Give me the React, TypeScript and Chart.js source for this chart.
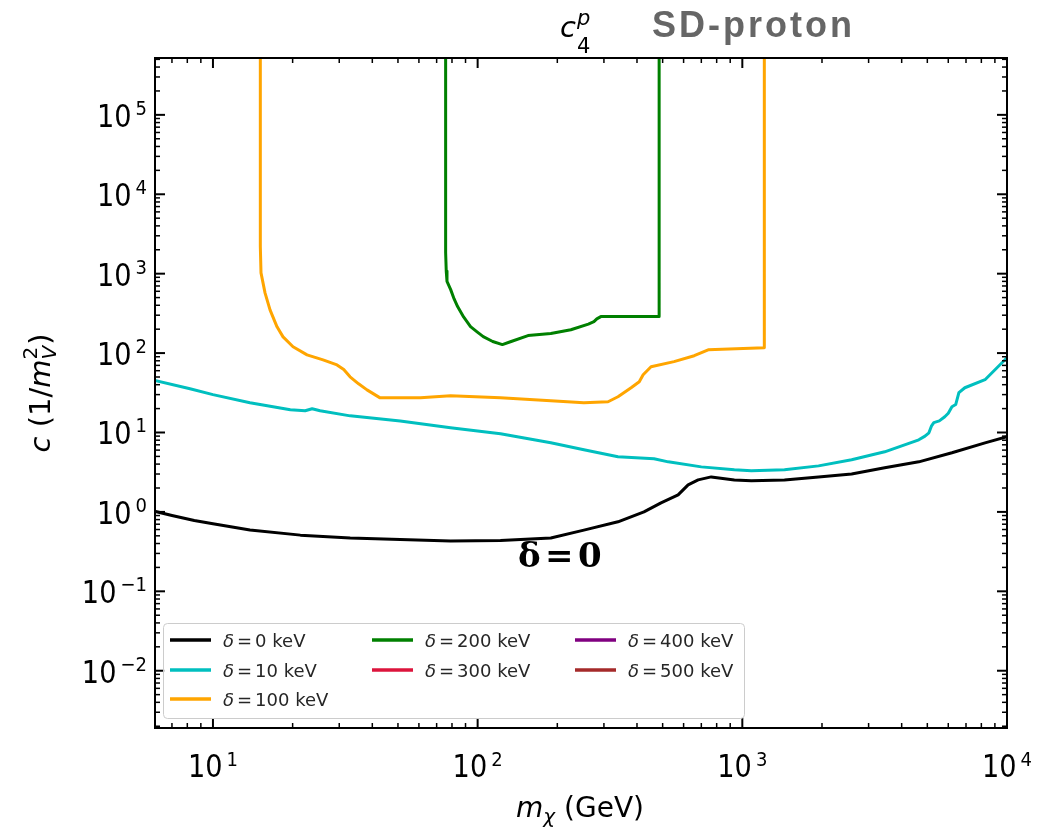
import React, { useEffect, useRef } from "react";
import { Chart, registerables } from "chart.js";
Chart.register(...registerables);

// ---------------- data ----------------
const blackMass = [6.0, 7.0, 8.5, 10, 13.8, 21.4, 33, 51, 79, 122, 189, 252, 339, 425, 493, 572, 624, 681, 763, 933, 1082, 1443, 1941, 2588, 3451, 4643, 6194, 8260, 10000];
const blackC = [1.02, 0.9, 0.78, 0.71, 0.59, 0.51, 0.47, 0.45, 0.43, 0.435, 0.47, 0.59, 0.75, 1.0, 1.3, 1.64, 2.19, 2.53, 2.76, 2.53, 2.46, 2.53, 2.76, 3.01, 3.59, 4.27, 5.55, 7.41, 8.83];

const cyanMass = [6.0, 8.19, 10, 13.8, 19.6, 22.3, 23.7, 25.4, 33, 51, 79, 122, 189, 252, 339, 464, 525, 700, 933, 1082, 1443, 1941, 2588, 3451, 4643, 4900, 5070, 5180, 5290, 5550, 5820, 6000, 6194, 6400, 6580, 6930, 8260, 10000];
const cyanC = [45.5, 35.6, 30.0, 23.7, 19.3, 18.8, 19.9, 18.8, 16.2, 14.0, 11.5, 9.63, 7.41, 6.05, 4.94, 4.66, 4.27, 3.69, 3.39, 3.29, 3.39, 3.8, 4.53, 5.71, 8.09, 9.0, 9.91, 12.0, 13.3, 14.0, 15.8, 17.5, 21.1, 22.5, 31.7, 36.6, 46.2, 87.5];

const orangeMass = [15.1, 15.1, 15.19, 15.73, 16.43, 17.46, 18.4, 20.07, 22.67, 26.06, 29.43, 31.2, 32.96, 35.5, 38.2, 42.8, 60.8, 79, 122, 189, 252, 311, 339, 380, 408, 422, 452, 552, 658, 743, 1211, 1211];
const orangeC = [1e6, 2197, 1023, 573, 350, 214, 160, 120, 94.9, 82.1, 71.0, 62.0, 50.2, 41.0, 34.4, 27.3, 27.4, 29.0, 27.4, 25.1, 23.7, 24.4, 28.2, 36.6, 43.6, 53.4, 67.4, 78.0, 92.7, 110, 117, 1e6];

const greenMass = [75.7, 75.7, 76.1, 76.6, 79.1, 81.5, 84.0, 88.5, 94.0, 99.5, 105, 114, 124, 133, 155, 189, 225, 262, 275, 282, 292, 485, 485];
const greenC = [1e6, 1845, 1080, 800, 630, 480, 385, 285, 215, 185, 161, 140, 128, 139, 166, 176, 197, 232, 249, 270, 288, 288, 1e6];

const emptyMass: number[] = [];
const emptyC: number[] = [];

const deltaLabels = ["0", "10", "100", "200", "300", "400", "500"];
const deltaColors = ["#000000", "#00bfbf", "#ffa500", "#008000", "#dc143c", "#800080", "#a52a2a"];
const legendCols = [0, 0, 0, 1, 1, 2, 2];
const legendRows = [0, 1, 2, 0, 1, 0, 1];

const xTickValues = [10, 100, 1000, 10000];
const xTickExps = ["1", "2", "3", "4"];
const yTickValues = [1e-2, 1e-1, 1, 10, 1e2, 1e3, 1e4, 1e5];
const yTickExps = ["\u22122", "\u22121", "0", "1", "2", "3", "4", "5"];

const X_MIN = 6.04;
const X_MAX = 1e4;
const Y_MIN = 1.9e-3;
const Y_MAX = 5.2e5;

// ---------------- helpers ----------------
const DV = '"DejaVu Sans"';
type Part = { t: string; f: string; dx?: number; dy?: number; sx?: number; stack?: boolean; color?: string };

function layoutRich(ctx: CanvasRenderingContext2D, parts: Part[]) {
  let cx = 0;
  let maxX = 0;
  let prevStart = 0;
  const pos: number[] = [];
  for (const p of parts) {
    ctx.font = p.f;
    const w = ctx.measureText(p.t).width * (p.sx ?? 1);
    if (p.stack) cx = prevStart;
    cx += p.dx ?? 0;
    pos.push(cx);
    prevStart = cx;
    cx += w;
    maxX = Math.max(maxX, cx);
    cx = maxX;
  }
  return { pos, width: maxX };
}

function drawRich(ctx: CanvasRenderingContext2D, parts: Part[], x: number, y: number, align: "left" | "center" | "right", color = "#000") {
  const { pos, width } = layoutRich(ctx, parts);
  const x0 = align === "left" ? x : align === "center" ? x - width / 2 : x - width;
  parts.forEach((p, i) => {
    ctx.save();
    ctx.font = p.f;
    ctx.fillStyle = p.color ?? color;
    ctx.textAlign = "left";
    ctx.textBaseline = "alphabetic";
    ctx.translate(x0 + pos[i], y + (p.dy ?? 0));
    ctx.scale(p.sx ?? 1, 1);
    ctx.fillText(p.t, 0, 0);
    ctx.restore();
  });
}

function minorValues(min: number, max: number) {
  const out: number[] = [];
  for (let e = Math.floor(Math.log10(min)); e <= Math.ceil(Math.log10(max)); e++) {
    for (let m = 2; m <= 9; m++) {
      const v = m * Math.pow(10, e);
      if (v > min && v < max) out.push(v);
    }
  }
  return out;
}
function majorValues(min: number, max: number) {
  const out: number[] = [];
  for (let e = Math.floor(Math.log10(min)); e <= Math.ceil(Math.log10(max)); e++) {
    const v = Math.pow(10, e);
    if (v >= min * 0.999 && v <= max * 1.001) out.push(v);
  }
  return out;
}

const decorPlugin = {
  id: "decor",
  afterDatasetsDraw(chart: any) {
    const ctx: CanvasRenderingContext2D = chart.ctx;
    const { left, right, top, bottom } = chart.chartArea;
    const xs = chart.scales.x;
    const ys = chart.scales.y;
    ctx.save();
    ctx.strokeStyle = "#000";
    const tick = (x1: number, y1: number, x2: number, y2: number, w: number) => {
      ctx.lineWidth = w;
      ctx.beginPath();
      ctx.moveTo(x1, y1);
      ctx.lineTo(x2, y2);
      ctx.stroke();
    };
    for (const v of minorValues(X_MIN, X_MAX)) {
      const px = xs.getPixelForValue(v);
      tick(px, bottom, px, bottom - 5, 1.5);
      tick(px, top, px, top + 5, 1.5);
    }
    for (const v of majorValues(X_MIN, X_MAX)) {
      const px = xs.getPixelForValue(v);
      tick(px, bottom, px, bottom - 10, 2);
      tick(px, top, px, top + 10, 2);
    }
    for (const v of minorValues(Y_MIN, Y_MAX)) {
      const py = ys.getPixelForValue(v);
      tick(left, py, left + 5, py, 1.5);
      tick(right, py, right - 5, py, 1.5);
    }
    for (const v of majorValues(Y_MIN, Y_MAX)) {
      const py = ys.getPixelForValue(v);
      tick(left, py, left + 10, py, 2);
      tick(right, py, right - 10, py, 2);
    }
    ctx.lineWidth = 2;
    ctx.strokeRect(left, top, right - left, bottom - top);

    // tick labels
    xTickValues.forEach((v, i) => {
      const px = xs.getPixelForValue(v);
      drawRich(ctx, [
        { t: "10", f: `32px ${DV}`, sx: 0.85 },
        { t: xTickExps[i], f: `20px ${DV}`, dx: 4, dy: -11, sx: 0.9 },
      ], px, 777, "center");
    });
    yTickValues.forEach((v, i) => {
      const py = ys.getPixelForValue(v);
      drawRich(ctx, [
        { t: "10", f: `32px ${DV}`, sx: 0.85 },
        { t: yTickExps[i], f: `20px ${DV}`, dx: 4, dy: -12, sx: 0.9 },
      ], 147, py + 12, "right");
    });

    // axis titles
    drawRich(ctx, [
      { t: "m", f: `italic 28px ${DV}` },
      { t: "\u03c7", f: `italic 20px ${DV}`, dy: 6 },
      { t: " (GeV)", f: `28px ${DV}` },
    ], 580, 817, "center");

    ctx.save();
    ctx.translate(50, 393);
    ctx.rotate(-Math.PI / 2);
    drawRich(ctx, [
      { t: "c", f: `italic 29px ${DV}` },
      { t: " (1/", f: `29px ${DV}` },
      { t: "m", f: `italic 29px ${DV}` },
      { t: "V", f: `italic 20px ${DV}`, dy: 6 },
      { t: "2", f: `20px ${DV}`, dy: -13, stack: true },
      { t: ")", f: `29px ${DV}`, dx: 1 },
    ], 0, 0, "center");
    ctx.restore();

    // title
    drawRich(ctx, [
      { t: "c", f: `italic 29px ${DV}` },
      { t: "p", f: `italic 21px ${DV}`, dx: 1, dy: -12 },
      { t: "4", f: `21px ${DV}`, dy: 16, stack: true },
    ], 560, 37, "left");
    ctx.save();
    ctx.font = 'bold 36px "Liberation Sans"';
    (ctx as any).letterSpacing = "3px";
    ctx.fillStyle = "#666666";
    ctx.textAlign = "left";
    ctx.textBaseline = "alphabetic";
    ctx.fillText("SD-proton", 652, 37);
    ctx.restore();

    // annotation
    ctx.save();
    ctx.font = 'bold 34px "DejaVu Serif"';
    ctx.fillStyle = "#000";
    ctx.textBaseline = "alphabetic";
    ctx.textAlign = "left";
    ctx.fillText("\u03b4", 518, 567);
    ctx.fillText("=", 545, 567);
    ctx.fillText("0", 578, 567);
    ctx.restore();

    // legend
    ctx.save();
    ctx.beginPath();
    (ctx as any).roundRect(163.5, 623.5, 581, 95, 4);
    ctx.fillStyle = "rgba(255,255,255,0.8)";
    ctx.fill();
    ctx.strokeStyle = "#cccccc";
    ctx.lineWidth = 1;
    ctx.stroke();
    const colX = [170, 372, 575];
    const rowY = [640, 670, 699];
    deltaLabels.forEach((lab, i) => {
      const lx = colX[legendCols[i]];
      const ly = rowY[legendRows[i]];
      ctx.strokeStyle = deltaColors[i];
      ctx.lineWidth = 3.5;
      ctx.lineCap = "butt";
      ctx.beginPath();
      ctx.moveTo(lx, ly);
      ctx.lineTo(lx + 41, ly);
      ctx.stroke();
      drawRich(ctx, [
        { t: "\u03b4", f: `italic 18px ${DV}` },
        { t: "=", f: `18px ${DV}`, dx: 3 },
        { t: lab, f: `18px ${DV}`, dx: 3 },
        { t: " keV", f: `18px ${DV}` },
      ], lx + 53, ly + 7, "left", "#262626");
    });
    ctx.restore();

    ctx.restore();
  },
};

function zip(xs: number[], ys: number[]) {
  return xs.map((x, i) => ({ x, y: ys[i] }));
}

export default function App() {
  const ref = useRef<HTMLCanvasElement | null>(null);
  useEffect(() => {
    if (!ref.current) return;
    const series = [
      [blackMass, blackC],
      [cyanMass, cyanC],
      [orangeMass, orangeC],
      [greenMass, greenC],
      [emptyMass, emptyC],
      [emptyMass, emptyC],
      [emptyMass, emptyC],
    ];
    const chart = new Chart(ref.current, {
      type: "scatter",
      data: {
        datasets: series.map((s, i) => ({
          label: `\u03b4 = ${deltaLabels[i]} keV`,
          data: zip(s[0], s[1]),
          showLine: true,
          borderColor: deltaColors[i],
          backgroundColor: deltaColors[i],
          borderWidth: 3,
          pointRadius: 0,
          fill: false,
          tension: 0,
          borderJoinStyle: "round",
          borderCapStyle: "butt",
        })) as any,
      },
      options: {
        responsive: false,
        maintainAspectRatio: false,
        animation: false,
        devicePixelRatio: 1,
        events: [],
        layout: { padding: { left: 155, top: 58, right: 38, bottom: 101 } },
        plugins: { legend: { display: false }, tooltip: { enabled: false }, title: { display: false } },
        scales: {
          x: { type: "logarithmic", min: X_MIN, max: X_MAX, display: false },
          y: { type: "logarithmic", min: Y_MIN, max: Y_MAX, display: false },
        },
      },
      plugins: [decorPlugin],
    });
    return () => chart.destroy();
  }, []);
  return (
    <div style={{ position: "fixed", left: 0, top: 0, width: 1045, height: 829, background: "#fff" }}>
      <canvas ref={ref} width={1045} height={829} style={{ width: 1045, height: 829, display: "block" }} />
    </div>
  );
}
